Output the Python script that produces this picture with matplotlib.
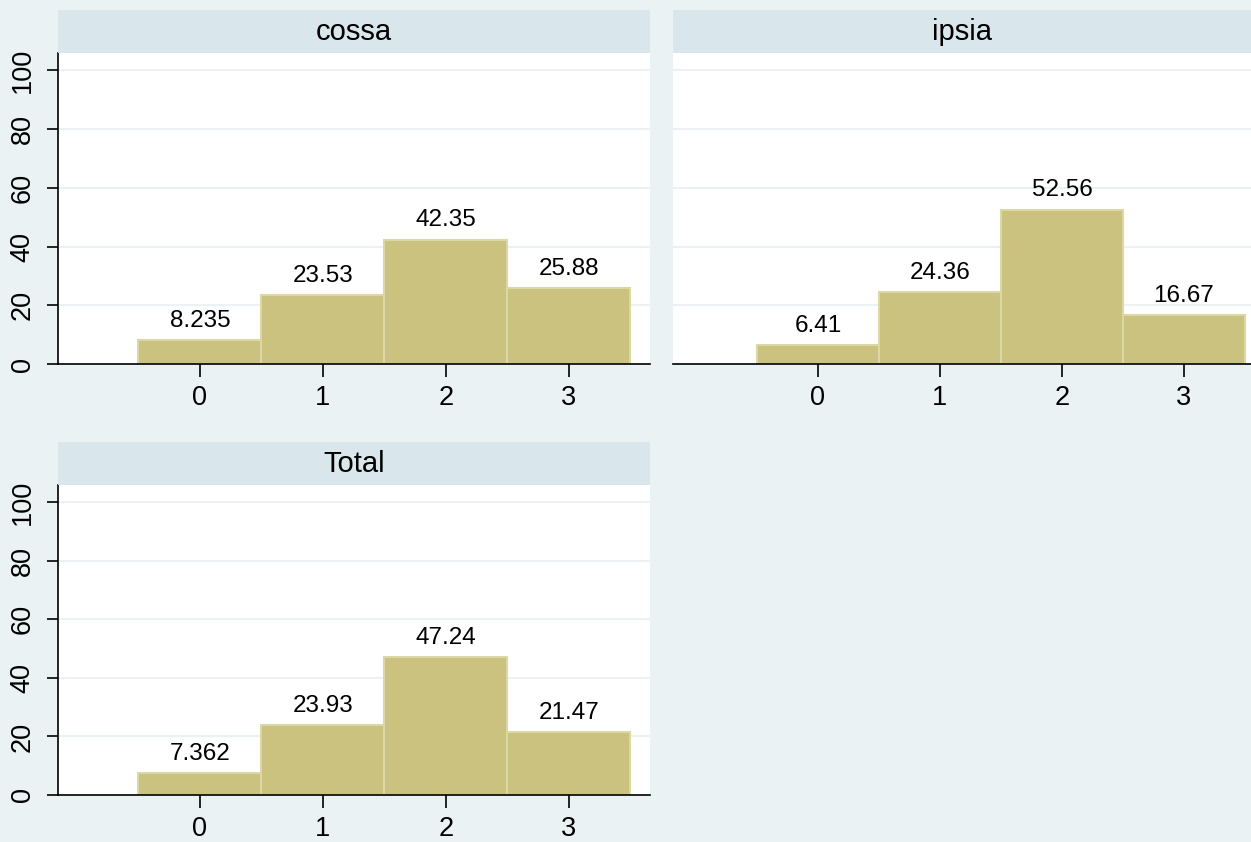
import matplotlib
matplotlib.use("Agg")
import matplotlib.pyplot as plt
from matplotlib.patches import Rectangle

plt.rcParams['font.family'] = ['Liberation Sans', 'DejaVu Sans']

categories = [0, 1, 2, 3]
panel_titles = ["cossa", "ipsia", "Total"]
cossa_vals = [8.235, 23.53, 42.35, 25.88]
ipsia_vals = [6.41, 24.36, 52.56, 16.67]
total_vals = [7.362, 23.93, 47.24, 21.47]
label_text = {
    "cossa": ["8.235", "23.53", "42.35", "25.88"],
    "ipsia": ["6.41", "24.36", "52.56", "16.67"],
    "Total": ["7.362", "23.93", "47.24", "21.47"],
}
yticks = [0, 20, 40, 60, 80, 100]

W, H = 1251, 842
BG = "#EAF2F3"
STRIP = "#D9E6EB"
BAR = "#CAC27E"
BAR_EDGE = "#DCD8A6"

fig = plt.figure(figsize=(W / 100, H / 100), dpi=100, facecolor=BG)


def fx(x):
    return x / W


def fy(y):
    return 1 - y / H


panels = [
    ("cossa", cossa_vals, 58, 650, 10, 53, 364, (-1.154, 3.66), True),
    ("ipsia", ipsia_vals, 672.7, 1251, 10, 53, 364, (-1.19, 3.55), False),
    ("Total", total_vals, 58, 650, 442, 485, 795, (-1.154, 3.66), True),
]

for title, vals, x0, x1, s0, s1, p1, xl, show_y in panels:
    fig.patches.append(Rectangle((fx(x0), fy(s1)), fx(x1 - x0), (s1 - s0) / H,
                                 transform=fig.transFigure, facecolor=STRIP,
                                 edgecolor="none", zorder=0))
    fig.text(fx((x0 + x1) / 2), fy((s0 + s1) / 2), title, ha="center",
             va="center", fontsize=21, color="black")
    ax = fig.add_axes([fx(x0), fy(p1), fx(x1 - x0), (p1 - s1) / H])
    ax.set_facecolor("white")
    ax.set_xlim(*xl)
    ax.set_ylim(0, 105.9)
    ax.bar(categories, vals, width=1.0, color=BAR, edgecolor=BAR_EDGE,
           linewidth=1.5, zorder=2)
    for c, v, t in zip(categories, vals, label_text[title]):
        ax.annotate(t, (c, v), xytext=(0, 9.5), textcoords="offset points",
                    ha="center", va="baseline", fontsize=17.5, color="black")
    for g in yticks[1:]:
        ax.axhline(g, color=BG, linewidth=1.5, zorder=1)
    for sp in ["top", "right"]:
        ax.spines[sp].set_visible(False)
    ax.spines["bottom"].set_linewidth(1.2)
    ax.spines["bottom"].set_zorder(3)
    ax.set_xticks(categories)
    ax.set_xticklabels([str(c) for c in categories], fontsize=19.5)
    ax.tick_params(axis="x", length=9, width=1.2, pad=6)
    if show_y:
        ax.spines["left"].set_linewidth(1.2)
        ax.set_yticks(yticks)
        ax.set_yticklabels([str(t) for t in yticks], fontsize=19.5, rotation=90,
                           va="center")
        ax.tick_params(axis="y", length=8, width=1.2, pad=8)
    else:
        ax.spines["left"].set_visible(False)
        ax.set_yticks([])

fig.savefig("out.png", dpi=100, facecolor=BG)
